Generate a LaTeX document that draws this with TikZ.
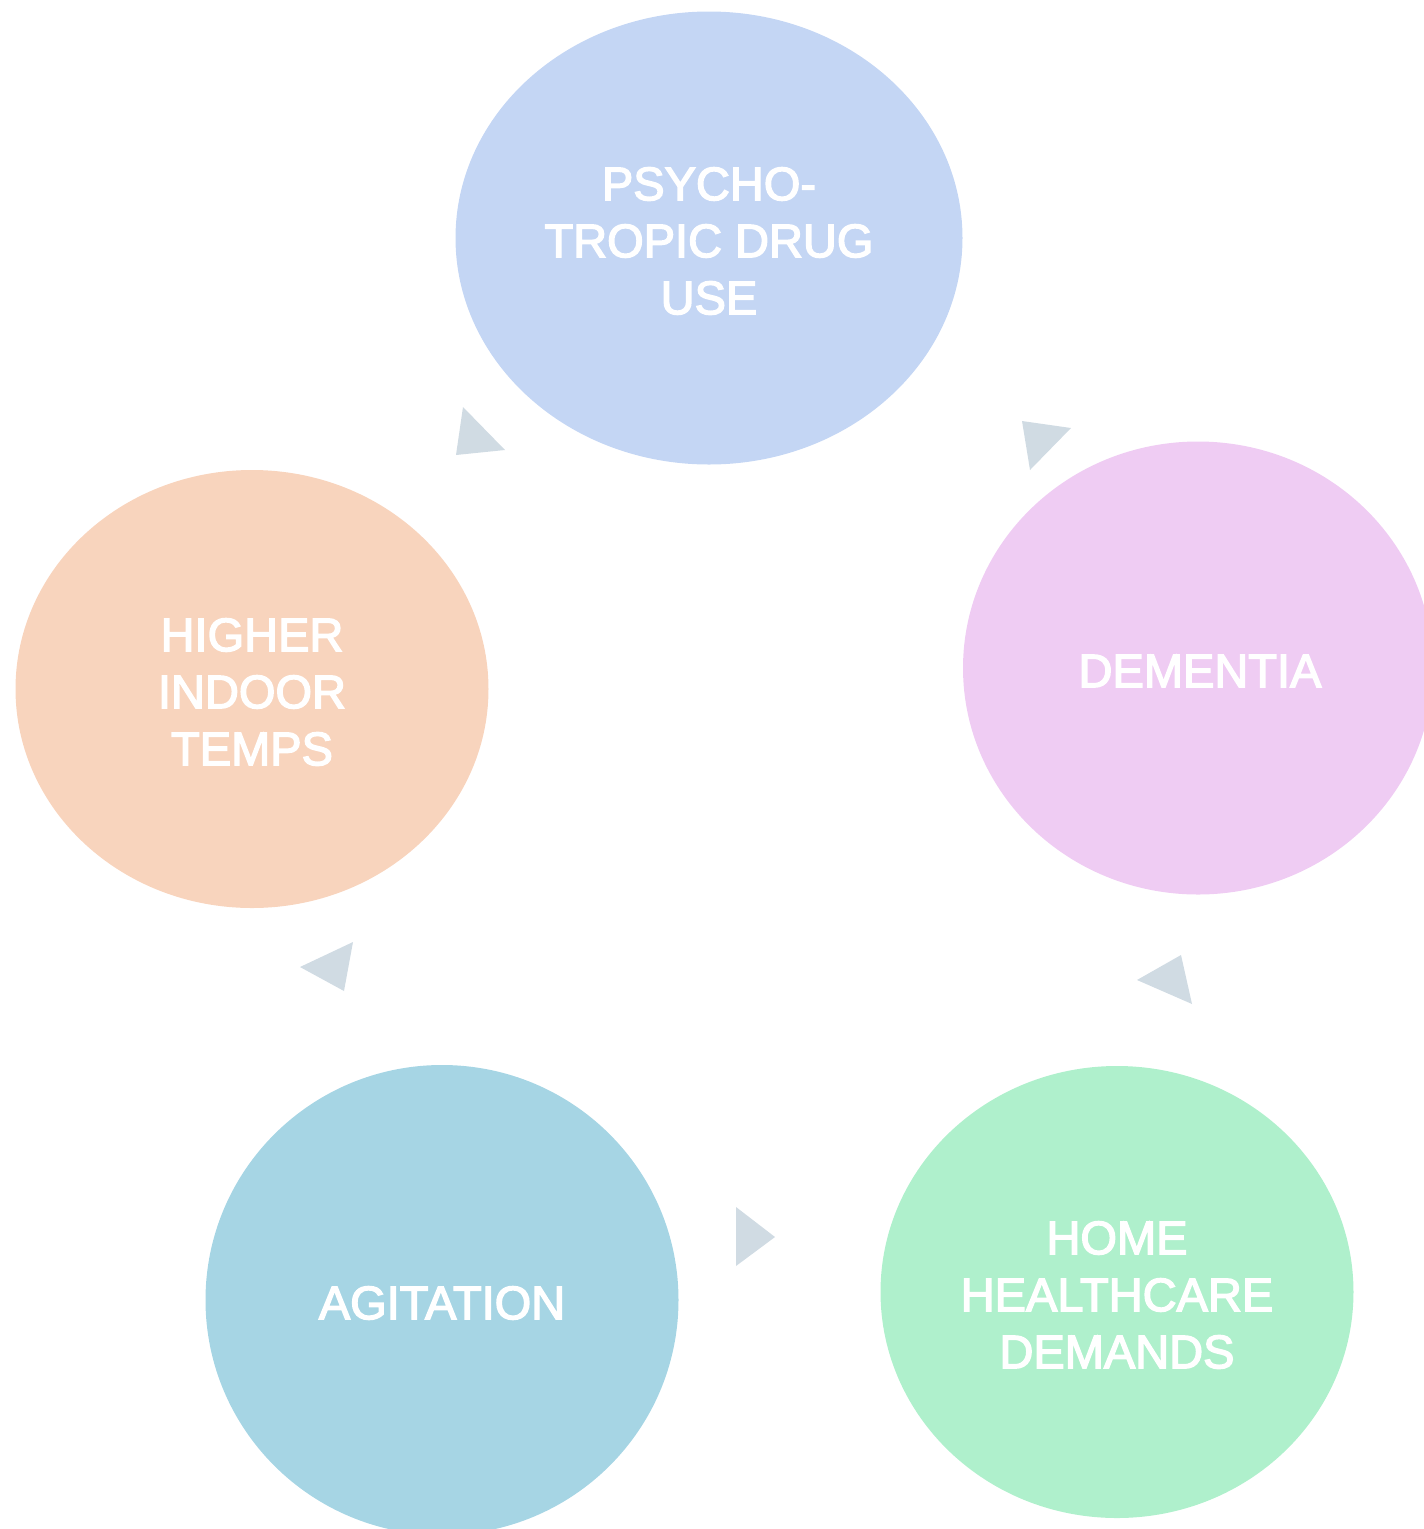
\documentclass[tikz,border=0pt]{standalone}
\usepackage{fontspec}
\setmainfont{Liberation Sans}
\usetikzlibrary{shapes.geometric}
\definecolor{cTop}{HTML}{C4D6F4}
\definecolor{cRight}{HTML}{EFCCF3}
\definecolor{cLeft}{HTML}{F8D4BD}
\definecolor{cBL}{HTML}{A6D5E4}
\definecolor{cBR}{HTML}{AFF0CC}
\definecolor{cArrow}{HTML}{D0DBE3}
\newcommand{\heavytext}{\special{pdf:literal direct 2 Tr 1.4 w}}
\tikzset{
  bubble/.style={ellipse, inner sep=0pt},
  lbl/.style={text=white, align=center, inner sep=0pt,
    font=\fontsize{47}{57}\selectfont,
    execute at begin node={\heavytext}},
  tip/.style={fill=cArrow, draw=none}
}
\begin{document}
\begin{tikzpicture}[x=1pt, y=-1pt]
\useasboundingbox (0,0) rectangle (1424,1529);
\clip (0,0) rectangle (1424,1529);
\node[bubble, fill=cTop, minimum width=507pt, minimum height=453pt] (psy) at (709,238) {};
\node[bubble, fill=cRight, minimum width=470pt, minimum height=453pt] (dem) at (1198,668) {};
\node[bubble, fill=cLeft, minimum width=473pt, minimum height=438pt] (hit) at (252,689) {};
\node[bubble, fill=cBL, minimum width=473pt, minimum height=470pt] (agi) at (442,1300) {};
\node[bubble, fill=cBR, minimum width=473pt, minimum height=452pt] (hhd) at (1117,1292) {};
\node[lbl] (psyt) at ([yshift=-3pt]psy.center) {PSYCHO-\\TROPIC DRUG\\USE};
\node[lbl] (demt) at ([yshift=-3pt]1200,668) {DEMENTIA};
\node[lbl] (hitt) at ([yshift=-3pt]hit.center) {HIGHER\\INDOOR\\TEMPS};
\node[lbl] (agit) at ([yshift=-3pt]agi.center) {AGITATION};
\node[lbl] (hhdt) at ([yshift=-3pt]hhd.center) {HOME\\HEALTHCARE\\DEMANDS};
\fill[tip] (463,407) -- (505,450) -- (456,455) -- cycle;
\fill[tip] (1022,421) -- (1071,428) -- (1030,470) -- cycle;
\fill[tip] (300,967) -- (353,942) -- (344,991) -- cycle;
\fill[tip] (1137,980) -- (1181,955) -- (1192,1004) -- cycle;
\fill[tip] (736,1207) -- (775,1237) -- (736,1266) -- cycle;
\end{tikzpicture}
\end{document}
